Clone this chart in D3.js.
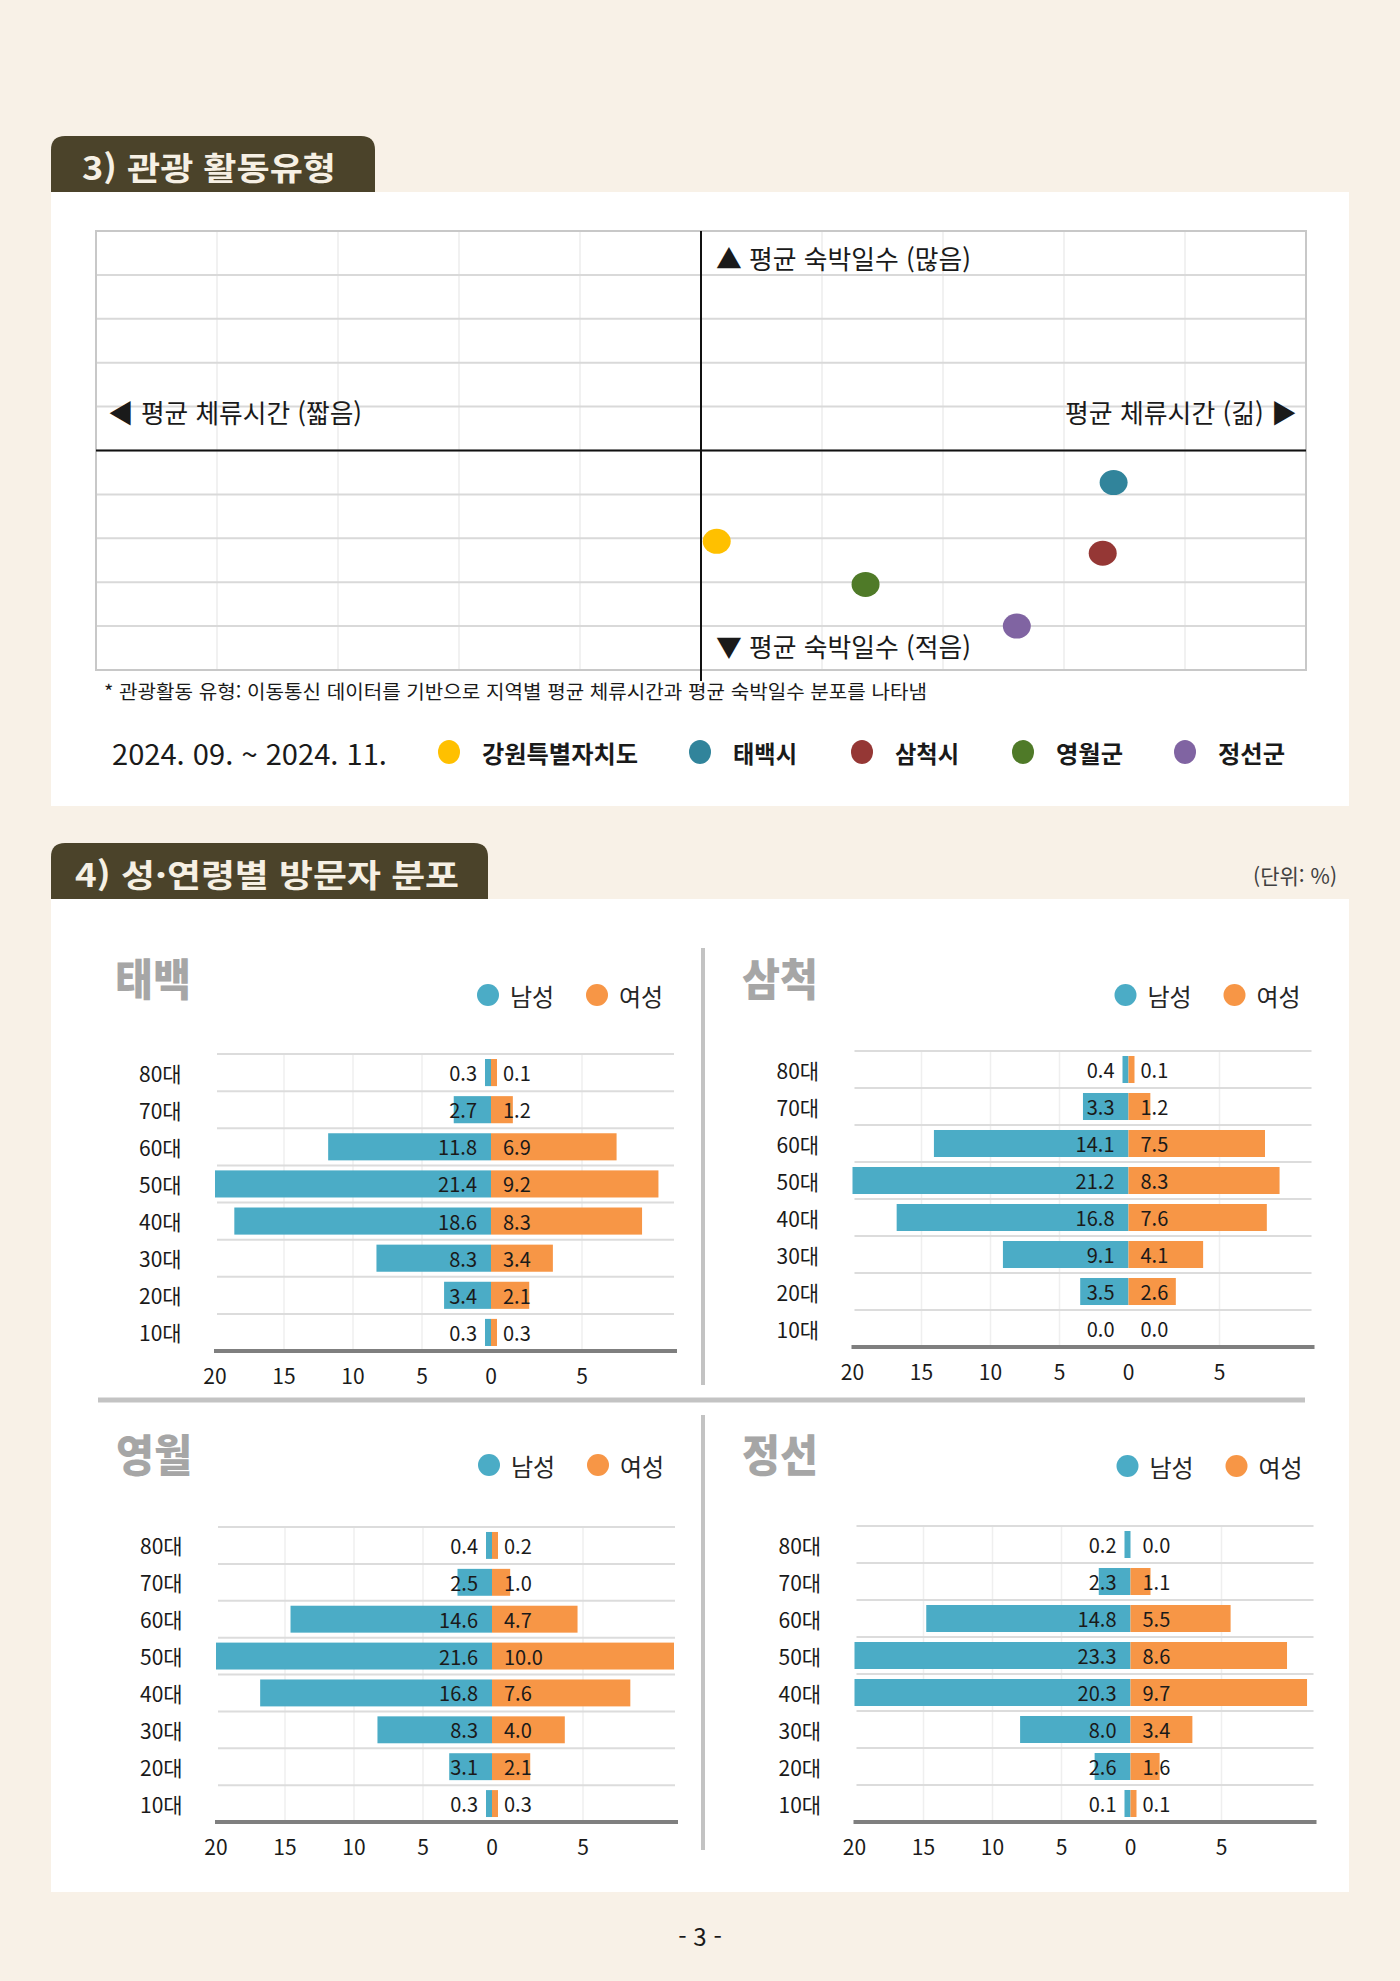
<!DOCTYPE html>
<html lang="ko">
<head>
<meta charset="utf-8">
<script src="https://cdn.jsdelivr.net/npm/d3@7"></script>
<style>
  html, body { margin: 0; padding: 0; background: #f8f1e7; }
  svg { display: block; font-family: "Noto Sans CJK KR", "Noto Sans", sans-serif; }
</style>
</head>
<body>
<div id="page"></div>
<script>
// ========================================
// DATA
// ========================================

// 3) 관광 활동유형 - position on the quadrant grid (체류시간 x, 숙박일수 y)
const regions = ['강원특별자치도', '태백시', '삼척시', '영월군', '정선군'];
const stayTime = [0.13, 3.41, 3.32, 1.36, 2.61];
const stayNights = [-2.07, -0.73, -2.34, -3.05, -4.00];
const period = '2024. 09. ~ 2024. 11.';

// 4) 성·연령별 방문자 분포 (단위: %)
const ageGroups = ['80대', '70대', '60대', '50대', '40대', '30대', '20대', '10대'];
const cities = ['태백', '삼척', '영월', '정선'];
const maleTaebaek = [0.3, 2.7, 11.8, 21.4, 18.6, 8.3, 3.4, 0.3];
const femaleTaebaek = [0.1, 1.2, 6.9, 9.2, 8.3, 3.4, 2.1, 0.3];
const maleSamcheok = [0.4, 3.3, 14.1, 21.2, 16.8, 9.1, 3.5, 0.0];
const femaleSamcheok = [0.1, 1.2, 7.5, 8.3, 7.6, 4.1, 2.6, 0.0];
const maleYeongwol = [0.4, 2.5, 14.6, 21.6, 16.8, 8.3, 3.1, 0.3];
const femaleYeongwol = [0.2, 1.0, 4.7, 10.0, 7.6, 4.0, 2.1, 0.3];
const maleJeongseon = [0.2, 2.3, 14.8, 23.3, 20.3, 8.0, 2.6, 0.1];
const femaleJeongseon = [0.0, 1.1, 5.5, 8.6, 9.7, 3.4, 1.6, 0.1];
const genders = ['남성', '여성'];
const maleTicks = [20, 15, 10, 5, 0];
const femaleTicks = [5];

// ========================================
// PAGE SETUP
// ========================================

const width = 1400, height = 1981;
const ink = '#1a1a1a';

const svg = d3.select('#page').append('svg')
  .attr('width', width)
  .attr('height', height);

svg.append('rect').attr('width', width).attr('height', height).attr('fill', '#f8f1e7');

function tab(x, y, w, h, label, textX, textLen) {
  const r = 14;
  svg.append('path')
    .attr('d', `M${x},${y + h} V${y + r} Q${x},${y} ${x + r},${y} H${x + w - r} Q${x + w},${y} ${x + w},${y + r} V${y + h} Z`)
    .attr('fill', '#4b432a');
  svg.append('text')
    .attr('x', textX).attr('y', y + h / 2 + 1)
    .attr('dominant-baseline', 'central')
    .attr('font-size', 32).attr('font-weight', 700)
    .attr('fill', '#f6f0e4')
    .attr('textLength', textLen).attr('lengthAdjust', 'spacingAndGlyphs')
    .text(label);
}

// ========================================
// SECTION 3 - QUADRANT SCATTER
// ========================================

tab(51, 136, 324, 57, '3) 관광 활동유형', 82, 254);
svg.append('rect').attr('x', 51).attr('y', 192).attr('width', 1298).attr('height', 614).attr('fill', '#fff');

const x = d3.scaleLinear().domain([-5, 5]).range([96, 1306]);
const y = d3.scaleLinear().domain([-5, 5]).range([670, 231]);
const color = d3.scaleOrdinal().domain(regions)
  .range(['#ffc000', '#31849b', '#953735', '#4f7a28', '#8064a2']);

const quad = svg.append('g');

quad.selectAll('line.vgrid').data(x.ticks(10))
  .join('line').attr('class', 'vgrid')
  .attr('x1', d => x(d)).attr('x2', d => x(d))
  .attr('y1', y(5)).attr('y2', y(-5))
  .attr('stroke', '#ececec').attr('stroke-width', 1.5);

quad.selectAll('line.hgrid').data(y.ticks(10))
  .join('line').attr('class', 'hgrid')
  .attr('x1', x(-5)).attr('x2', x(5))
  .attr('y1', d => y(d)).attr('y2', d => y(d))
  .attr('stroke', '#d9d9d9').attr('stroke-width', 2);

quad.append('rect')
  .attr('x', x(-5)).attr('y', y(5))
  .attr('width', x(5) - x(-5)).attr('height', y(-5) - y(5))
  .attr('fill', 'none').attr('stroke', '#c8c8c8').attr('stroke-width', 2);

quad.append('line')
  .attr('x1', x(-5)).attr('x2', x(5)).attr('y1', y(0)).attr('y2', y(0))
  .attr('stroke', '#111').attr('stroke-width', 2);
quad.append('line')
  .attr('x1', x(0)).attr('x2', x(0)).attr('y1', y(5)).attr('y2', y(-5) + 11)
  .attr('stroke', '#111').attr('stroke-width', 2);

const notes = [
  { t: '▲ 평균 숙박일수 (많음)', x: 716, y: 257, anchor: 'start', len: 255 },
  { t: '▼ 평균 숙박일수 (적음)', x: 716, y: 645, anchor: 'start', len: 255 },
  { t: '◀ 평균 체류시간 (짧음)', x: 108, y: 411, anchor: 'start', len: 254 },
  { t: '평균 체류시간 (긺) ▶', x: 1065, y: 411, anchor: 'start', len: 232 }
];
quad.selectAll('text.note').data(notes)
  .join('text').attr('class', 'note')
  .attr('x', d => d.x).attr('y', d => d.y)
  .attr('dominant-baseline', 'central')
  .attr('font-size', 26).attr('fill', ink)
  .attr('textLength', d => d.len).attr('lengthAdjust', 'spacingAndGlyphs')
  .text(d => d.t);

quad.selectAll('ellipse.pt').data(regions)
  .join('ellipse').attr('class', 'pt')
  .attr('cx', (d, i) => x(stayTime[i]))
  .attr('cy', (d, i) => y(stayNights[i]))
  .attr('rx', 14).attr('ry', 12.5)
  .attr('fill', d => color(d));

svg.append('text')
  .attr('x', 104).attr('y', 690)
  .attr('dominant-baseline', 'central')
  .attr('font-size', 19).attr('fill', ink)
  .attr('textLength', 823).attr('lengthAdjust', 'spacingAndGlyphs')
  .text('* 관광활동 유형: 이동통신 데이터를 기반으로 지역별 평균 체류시간과 평균 숙박일수 분포를 나타냄');

// legend
svg.append('text')
  .attr('x', 112).attr('y', 753)
  .attr('dominant-baseline', 'central')
  .attr('font-size', 28).attr('fill', ink)
  .attr('textLength', 275).attr('lengthAdjust', 'spacingAndGlyphs')
  .text(period);

const legendX = [449, 700, 862, 1023, 1185];
const legendLen = [156, 64, 64, 67, 67];
const legend = svg.selectAll('g.lg').data(regions)
  .join('g').attr('class', 'lg')
  .attr('transform', (d, i) => `translate(${legendX[i]},752)`);
legend.append('ellipse').attr('rx', 11).attr('ry', 12).attr('fill', d => color(d));
legend.append('text')
  .attr('x', 33).attr('y', 0)
  .attr('dominant-baseline', 'central')
  .attr('font-size', 24).attr('font-weight', 700).attr('fill', ink)
  .attr('textLength', (d, i) => legendLen[i]).attr('lengthAdjust', 'spacingAndGlyphs')
  .text(d => d);

// ========================================
// SECTION 4 - POPULATION PYRAMIDS
// ========================================

tab(51, 843, 437, 57, '4) 성·연령별 방문자 분포', 75, 384);
svg.append('text')
  .attr('x', 1337).attr('y', 875)
  .attr('text-anchor', 'end').attr('dominant-baseline', 'central')
  .attr('font-size', 21).attr('fill', '#404040')
  .text('(단위: %)');
svg.append('rect').attr('x', 51).attr('y', 899).attr('width', 1298).attr('height', 993).attr('fill', '#fff');

// dividers
svg.append('line').attr('x1', 98).attr('x2', 1305).attr('y1', 1400).attr('y2', 1400)
  .attr('stroke', '#c3c3c3').attr('stroke-width', 5);
svg.append('line').attr('x1', 703).attr('x2', 703).attr('y1', 948).attr('y2', 1385)
  .attr('stroke', '#c3c3c3').attr('stroke-width', 4);
svg.append('line').attr('x1', 703).attr('x2', 703).attr('y1', 1415).attr('y2', 1850)
  .attr('stroke', '#c3c3c3').attr('stroke-width', 4);

const genderColor = d3.scaleOrdinal().domain(genders).range(['#4bacc6', '#f79646']);

const pyramids = [
  { name: cities[0], male: maleTaebaek, female: femaleTaebaek, zero: 491, top: 1054, bottom: 1351, titleX: 115, titleY: 977, legendY: 995 },
  { name: cities[1], male: maleSamcheok, female: femaleSamcheok, zero: 1128.5, top: 1051, bottom: 1347, titleX: 742, titleY: 977, legendY: 995 },
  { name: cities[2], male: maleYeongwol, female: femaleYeongwol, zero: 492, top: 1527, bottom: 1822, titleX: 116, titleY: 1453, legendY: 1465 },
  { name: cities[3], male: maleJeongseon, female: femaleJeongseon, zero: 1130.5, top: 1526, bottom: 1822, titleX: 742, titleY: 1453, legendY: 1466 }
];

pyramids.forEach(drawPyramid);

function drawPyramid(p) {
  const g = svg.append('g');
  const xm = d3.scaleLinear().domain([0, 20]).range([p.zero, p.zero - 276]);
  const xf = d3.scaleLinear().domain([0, 10]).range([p.zero, p.zero + 182]);
  const band = d3.scaleBand().domain(ageGroups).range([p.top, p.bottom])
    .paddingInner(0.27).paddingOuter(0.135);
  const step = band.step();

  // title + legend
  g.append('text')
    .attr('x', p.titleX).attr('y', p.titleY)
    .attr('dominant-baseline', 'central')
    .attr('font-size', 44).attr('font-weight', 900).attr('fill', '#a6a6a6')
    .attr('textLength', 76).attr('lengthAdjust', 'spacingAndGlyphs')
    .text(p.name);

  const lg = g.selectAll('g.glg').data(genders)
    .join('g').attr('class', 'glg')
    .attr('transform', (d, i) => `translate(${p.zero - 3 + i * 109},${p.legendY})`);
  lg.append('circle').attr('r', 11).attr('fill', d => genderColor(d));
  lg.append('text')
    .attr('x', 22).attr('dominant-baseline', 'central')
    .attr('font-size', 24).attr('fill', '#262626')
    .text(d => d);

  // grid
  const vticks = maleTicks.filter(t => t > 0 && t < 20).map(t => xm(t))
    .concat(femaleTicks.map(t => xf(t)));
  g.selectAll('line.vg').data(vticks)
    .join('line').attr('class', 'vg')
    .attr('x1', d => d).attr('x2', d => d)
    .attr('y1', p.top).attr('y2', p.bottom)
    .attr('stroke', '#efefef').attr('stroke-width', 1.5);

  g.selectAll('line.hg').data(ageGroups)
    .join('line').attr('class', 'hg')
    .attr('x1', xm(20) + 2).attr('x2', xf(10) + 1)
    .attr('y1', d => band(d) - step * 0.135)
    .attr('y2', d => band(d) - step * 0.135)
    .attr('stroke', '#dcdcdc').attr('stroke-width', 2);

  // bars
  const rows = ageGroups.map((a, i) => ({ age: a, m: p.male[i], f: p.female[i] }));
  const minW = 6;
  g.selectAll('rect.m').data(rows.filter(d => d.m > 0))
    .join('rect').attr('class', 'm')
    .attr('x', d => Math.min(xm(Math.min(d.m, 20)), p.zero - minW))
    .attr('y', d => band(d.age))
    .attr('width', d => Math.max(p.zero - xm(Math.min(d.m, 20)), minW))
    .attr('height', band.bandwidth())
    .attr('fill', genderColor('남성'));
  g.selectAll('rect.f').data(rows.filter(d => d.f > 0))
    .join('rect').attr('class', 'f')
    .attr('x', p.zero)
    .attr('y', d => band(d.age))
    .attr('width', d => Math.max(xf(Math.min(d.f, 10.2)) - p.zero, minW))
    .attr('height', band.bandwidth())
    .attr('fill', genderColor('여성'));

  // value labels
  g.selectAll('text.mv').data(rows)
    .join('text').attr('class', 'mv')
    .attr('x', p.zero - 14)
    .attr('y', d => band(d.age) + band.bandwidth() / 2)
    .attr('text-anchor', 'end').attr('dominant-baseline', 'central')
    .attr('font-size', 20).attr('fill', ink)
    .text(d => d.m.toFixed(1));
  g.selectAll('text.fv').data(rows)
    .join('text').attr('class', 'fv')
    .attr('x', p.zero + 12)
    .attr('y', d => band(d.age) + band.bandwidth() / 2)
    .attr('dominant-baseline', 'central')
    .attr('font-size', 20).attr('fill', ink)
    .text(d => d.f.toFixed(1));

  // age labels
  g.selectAll('text.age').data(ageGroups)
    .join('text').attr('class', 'age')
    .attr('x', p.zero - 352)
    .attr('y', d => band(d) + band.bandwidth() / 2)
    .attr('dominant-baseline', 'central')
    .attr('font-size', 21).attr('fill', ink)
    .text(d => d);

  // x axis
  g.append('line')
    .attr('x1', xm(20) - 1).attr('x2', xf(10) + 4)
    .attr('y1', p.bottom).attr('y2', p.bottom)
    .attr('stroke', '#7f7f7f').attr('stroke-width', 4);

  const tickData = maleTicks.map(t => ({ t, px: xm(t) }))
    .concat(femaleTicks.map(t => ({ t, px: xf(t) })));
  g.selectAll('text.tk').data(tickData)
    .join('text').attr('class', 'tk')
    .attr('x', d => d.px).attr('y', p.bottom + 24)
    .attr('text-anchor', 'middle').attr('dominant-baseline', 'central')
    .attr('font-size', 21).attr('fill', ink)
    .text(d => d.t);
}

// page number
svg.append('text')
  .attr('x', 700).attr('y', 1935)
  .attr('text-anchor', 'middle').attr('dominant-baseline', 'central')
  .attr('font-size', 24).attr('fill', ink)
  .text('- 3 -');
</script>
</body>
</html>
